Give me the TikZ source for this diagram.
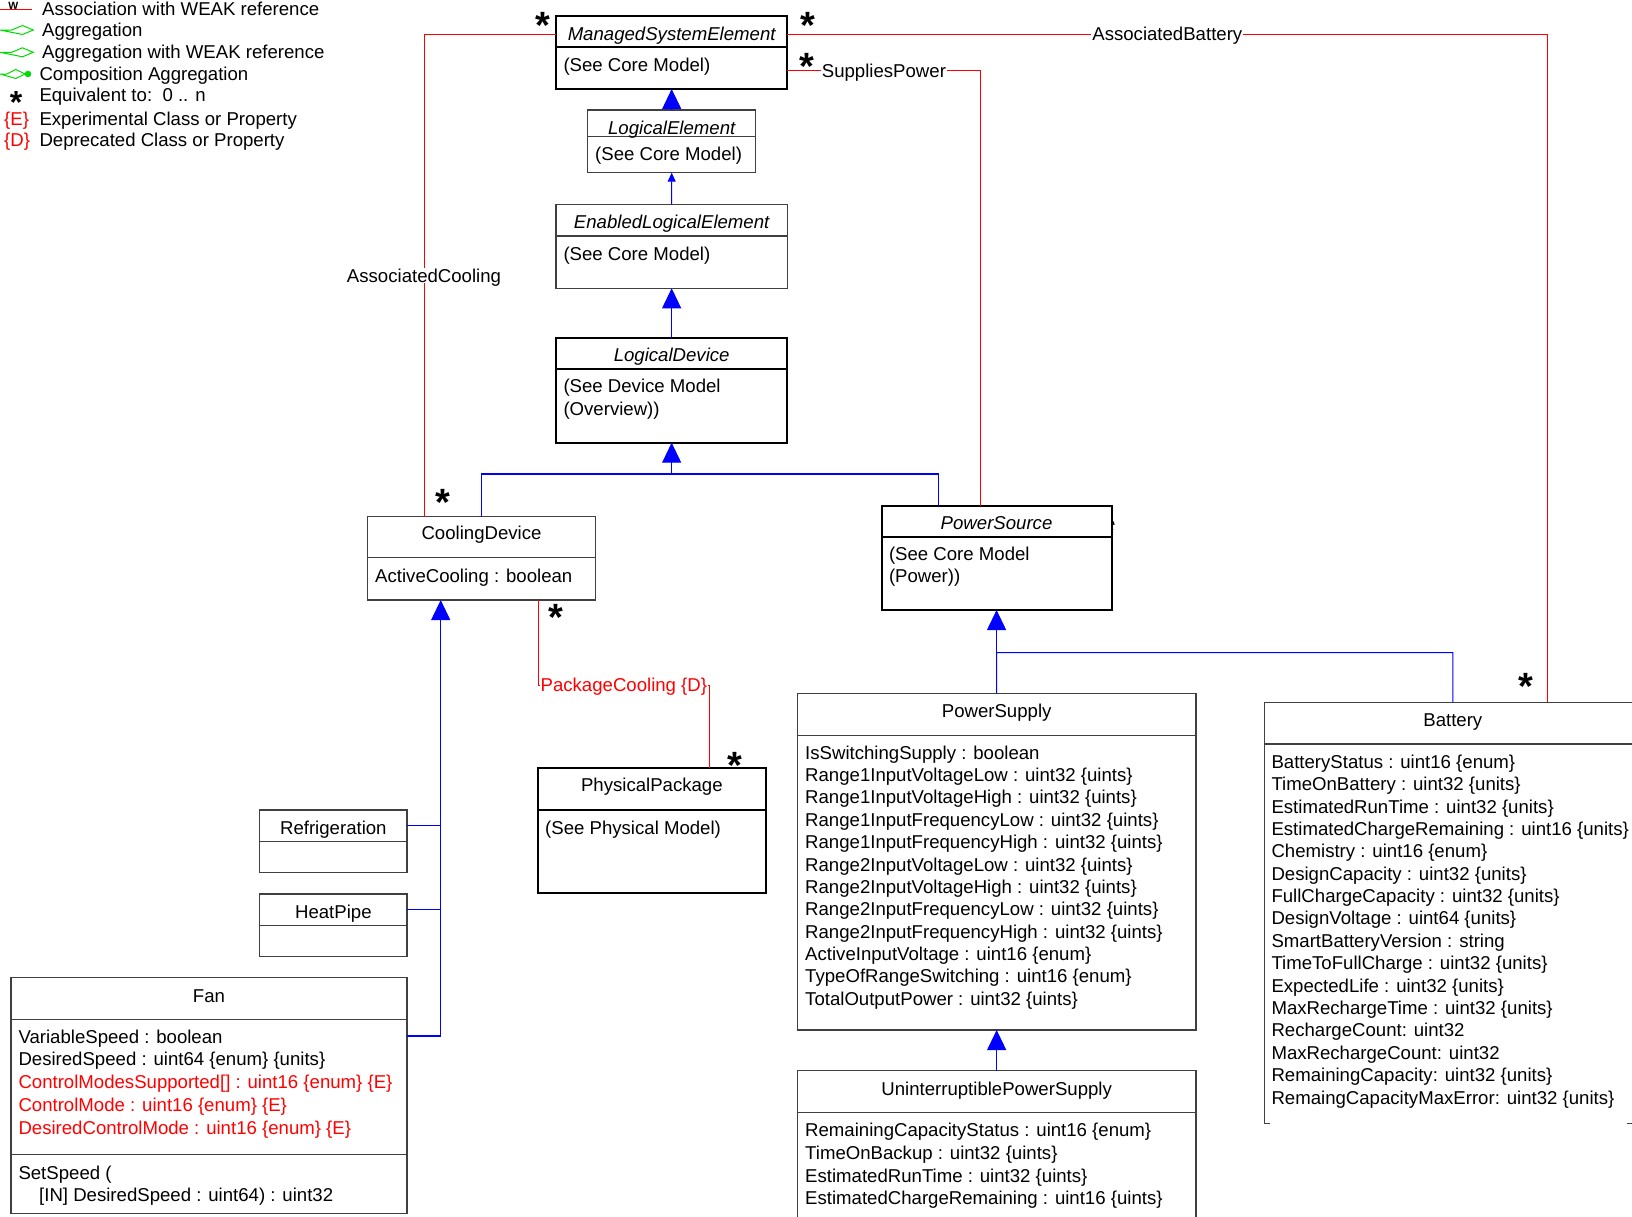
\documentclass[tikz,border=0pt]{standalone}
\usepackage{fontspec}
\setmainfont{Liberation Sans}
\usetikzlibrary{arrows.meta}
\definecolor{aggGreen}{RGB}{0,220,0}

\tikzset{
  cls/.style={draw=black!75, line width=1.1pt, fill=white, anchor=north west, inner sep=0pt, outer sep=0pt},
  clsb/.style={cls, draw=black, line width=2pt},
  sepl/.style={draw=black!75, line width=1.1pt},
  sepb/.style={draw=black, line width=2pt},
  txt/.style={anchor=base west, inner sep=0pt},
  ttl/.style={anchor=base, inner sep=0pt},
  gen/.style={draw=blue, line width=1.1pt, -{Triangle[width=19pt,length=20pt]}},
  gensmall/.style={draw=blue, line width=1pt, -{Triangle[width=8pt,length=9pt]}},
  genl/.style={draw=blue, line width=1.1pt},
  assoc/.style={draw=red, line width=1pt},
  agg/.style={draw=aggGreen, line width=1pt},
  lbl/.style={fill=white, inner sep=1pt, text height=13.3pt, text depth=0pt},
  mult/.style={font=\fontsize{38}{38}\selectfont\bfseries, inner sep=0pt, anchor=base},
}

\begin{document}
\fontsize{18.6pt}{22.4pt}\selectfont
\begin{tikzpicture}[x=1pt, y=-1pt]
    \useasboundingbox (0,0) rectangle (1632,1216);

    % legend
    \draw[assoc] (0,9.3) -- (32,9.3);
    \node[ttl, font=\fontsize{10.5}{10.5}\selectfont\bfseries] (wmark) at (13.3,9.3) {W};
    \draw[agg] (0,30) -- (11.7,30) -- (22.5,25.5) -- (33.3,30) -- (22.5,34.5) -- cycle;
    \draw[agg] (0,52.3) -- (11.7,52.3) -- (22.5,47.8) -- (33.3,52.3) -- (22.5,56.8) -- cycle;
    \draw[agg] (0,74) -- (6.7,74) -- (15.8,69.5) -- (25,74) -- (15.8,78.5) -- cycle;
    \draw[agg, fill=aggGreen] (25,74) -- (28,74) circle (2.7);
    \node[mult, font=\fontsize{32}{32}\selectfont\bfseries] (legstar) at (16,113) {*};
    \node[txt, text=red] (lege) at (4,125.2) {\{E\}};
    \node[txt, text=red] (legd) at (4,146.1) {\{D\}};
    \foreach \x/\y/\t [count=\i] in {42/15/Association with WEAK reference, 42/36.8/Aggregation,
        42/58.6/Aggregation with WEAK reference, 39.3/80.5/Composition Aggregation,
        39.3/101.3/{Equivalent to:\ \ 0 .. n}, 39.3/125.2/Experimental Class or Property,
        39.3/146.1/Deprecated Class or Property}
    \node[txt] (leg\i) at (\x,\y) {\t};

    % multiplicities
    \foreach \x/\y [count=\i] in {542.5/38.8, 807.5/38.8, 807/79.8, 443.3/515.8,
        555.7/630.5, 735/778.1, 1526/699.8}
    \node[mult] (mult\i) at (\x,\y) {*};
    \node[mult] (mult8) at (1108,544.8) {*};

    % core classes
    \node[clsb, minimum width=231.3pt, minimum height=73.3pt] (mse) at (556,15.7) {};
    \draw[sepb] ([yshift=-31.6pt]mse.north west) -- ([yshift=-31.6pt]mse.north east);
    \node[ttl, font=\itshape] (mset) at ([yshift=-24.3pt]mse.north) {ManagedSystemElement};
    \node[txt] (msea) at ([xshift=7.3pt, yshift=-56pt]mse.north west) {(See Core Model)};

    \node[cls, minimum width=168pt, minimum height=62.7pt] (le) at (587.7,110) {};
    \draw[sepl] ([yshift=-26.7pt]le.north west) -- ([yshift=-26.7pt]le.north east);
    \node[ttl, font=\itshape] (let) at ([yshift=-24pt]le.north) {LogicalElement};
    \node[txt] (lea) at ([xshift=7.3pt, yshift=-50pt]le.north west) {(See Core Model)};

    \node[cls, minimum width=231.3pt, minimum height=84pt] (ele) at (556,204.3) {};
    \draw[sepl] ([yshift=-31.7pt]ele.north west) -- ([yshift=-31.7pt]ele.north east);
    \node[ttl, font=\itshape] (elet) at ([yshift=-23.7pt]ele.north) {EnabledLogicalElement};
    \node[txt] (elea) at ([xshift=7.3pt, yshift=-55.7pt]ele.north west) {(See Core Model)};

    \node[clsb, minimum width=231.3pt, minimum height=105pt] (ld) at (556,337.7) {};
    \draw[sepb] ([yshift=-31.6pt]ld.north west) -- ([yshift=-31.6pt]ld.north east);
    \node[ttl, font=\itshape] (ldt) at ([yshift=-24pt]ld.north) {LogicalDevice};
    \node[txt] (lda1) at ([xshift=7.3pt, yshift=-55pt]ld.north west) {(See Device Model};
    \node[txt] (lda2) at ([xshift=7.3pt, yshift=-77.3pt]ld.north west) {(Overview))};

    % cooling
    \node[cls, minimum width=228.4pt, minimum height=83.3pt] (cd) at (367.3,516.7) {};
    \draw[sepl] ([yshift=-41pt]cd.north west) -- ([yshift=-41pt]cd.north east);
    \node[ttl] (cdt) at ([yshift=-22.6pt]cd.north) {CoolingDevice};
    \node[txt] (cda) at ([xshift=7.7pt, yshift=-65.3pt]cd.north west) {ActiveCooling : boolean};

    \node[clsb, minimum width=228.3pt, minimum height=125.6pt] (pp) at (537.7,767.7) {};
    \draw[sepb] ([yshift=-42.3pt]pp.north west) -- ([yshift=-42.3pt]pp.north east);
    \node[ttl] (ppt) at ([yshift=-24pt]pp.north) {PhysicalPackage};
    \node[txt] (ppa) at ([xshift=7.3pt, yshift=-66.6pt]pp.north west) {(See Physical Model)};

    \node[cls, minimum width=147.3pt, minimum height=62.7pt] (ref) at (259.7,810) {};
    \draw[sepl] ([yshift=-31.7pt]ref.north west) -- ([yshift=-31.7pt]ref.north east);
    \node[ttl] (reft) at ([yshift=-24.3pt]ref.north) {Refrigeration};

    \node[cls, minimum width=147.3pt, minimum height=62.7pt] (hp) at (259.7,894) {};
    \draw[sepl] ([yshift=-31.3pt]hp.north west) -- ([yshift=-31.3pt]hp.north east);
    \node[ttl] (hpt) at ([yshift=-24.3pt]hp.north) {HeatPipe};

    \node[cls, minimum width=396pt, minimum height=236pt] (fan) at (11,977.7) {};
    \draw[sepl] ([yshift=-42pt]fan.north west) -- ([yshift=-42pt]fan.north east);
    \draw[sepl] ([yshift=-177pt]fan.north west) -- ([yshift=-177pt]fan.north east);
    \node[ttl] (fant) at ([yshift=-24.6pt]fan.north) {Fan};
    \foreach \t/\c [count=\i from 0] in {VariableSpeed : boolean/black,
        DesiredSpeed : uint64 \{enum\} \{units\}/black,
        ControlModesSupported[] : uint16 \{enum\} \{E\}/red,
        ControlMode : uint16 \{enum\} \{E\}/red,
        DesiredControlMode : uint16 \{enum\} \{E\}/red}
    \node[txt, text=\c] (fana\i) at (18.3,{1043.3+22.68*\i}) {\t};
    \node[txt] (fanm1) at (18.3,1179) {SetSpeed (};
    \node[txt] (fanm2) at (39,1201.5) {[IN] DesiredSpeed : uint64) : uint32};

    % power
    \node[clsb, minimum width=230.1pt, minimum height=104.2pt] (pwsrc) at (881.5,505.8) {};
    \draw[sepb] ([yshift=-31.2pt]pwsrc.north west) -- ([yshift=-31.2pt]pwsrc.north east);
    \node[ttl, font=\itshape] (pwsrct) at ([yshift=-23.7pt]pwsrc.north) {PowerSource};
    \node[txt] (pwsrca1) at ([xshift=7.3pt, yshift=-54.6pt]pwsrc.north west) {(See Core Model};
    \node[txt] (pwsrca2) at ([xshift=7.3pt, yshift=-76.9pt]pwsrc.north west) {(Power))};

    \node[cls, minimum width=398.7pt, minimum height=336.7pt] (psup) at (797.3,693.3) {};
    \draw[sepl] ([yshift=-42pt]psup.north west) -- ([yshift=-42pt]psup.north east);
    \node[ttl] (psupt) at ([yshift=-24pt]psup.north) {PowerSupply};
    \foreach \t [count=\i from 0] in {IsSwitchingSupply : boolean,
        Range1InputVoltageLow : uint32 \{uints\}, Range1InputVoltageHigh : uint32 \{uints\},
        Range1InputFrequencyLow : uint32 \{uints\}, Range1InputFrequencyHigh : uint32 \{uints\},
        Range2InputVoltageLow : uint32 \{uints\}, Range2InputVoltageHigh : uint32 \{uints\},
        Range2InputFrequencyLow : uint32 \{uints\}, Range2InputFrequencyHigh : uint32 \{uints\},
        ActiveInputVoltage : uint16 \{enum\}, TypeOfRangeSwitching : uint16 \{enum\},
        TotalOutputPower : uint32 \{uints\}}
    \node[txt] (psupa\i) at (805,{759.3+22.34*\i}) {\t};

    \node[cls, minimum width=398.7pt, minimum height=150pt] (ups) at (797.3,1070.7) {};
    \draw[sepl] ([yshift=-42pt]ups.north west) -- ([yshift=-42pt]ups.north east);
    \node[ttl] (upst) at ([yshift=-25pt]ups.north) {UninterruptiblePowerSupply};
    \foreach \t [count=\i from 0] in {RemainingCapacityStatus : uint16 \{enum\},
        TimeOnBackup : uint32 \{uints\}, EstimatedRunTime : uint32 \{uints\},
        EstimatedChargeRemaining : uint16 \{uints\}}
    \node[txt] (upsa\i) at (805,{1136.7+22.7*\i}) {\t};

    \node[anchor=north west, inner sep=0pt, outer sep=0pt, minimum width=377pt, minimum height=421pt] (bat) at (1264.3,702.3) {};
    \draw[sepl] ([xshift=6pt]bat.south west) -- (bat.south west) -- (bat.north west) -- (bat.north east);
    \draw[sepl] ([xshift=-14.3pt]bat.south east) -- (bat.south east);
    \draw[sepl] ([yshift=-41.7pt]bat.north west) -- ([yshift=-41.7pt]bat.north east);
    \node[ttl] (batt) at ([yshift=-24.4pt]bat.north) {Battery};
    \foreach \t [count=\i from 0] in {BatteryStatus : uint16 \{enum\},
        TimeOnBattery : uint32 \{units\}, EstimatedRunTime : uint32 \{units\},
        EstimatedChargeRemaining : uint16 \{units\}, Chemistry : uint16 \{enum\},
        DesignCapacity : uint32 \{units\}, FullChargeCapacity : uint32 \{units\},
        DesignVoltage : uint64 \{units\}, SmartBatteryVersion : string,
        TimeToFullCharge : uint32 \{units\}, ExpectedLife : uint32 \{units\},
        MaxRechargeTime : uint32 \{units\}, RechargeCount: uint32,
        MaxRechargeCount: uint32, RemainingCapacity: uint32 \{units\},
        RemaingCapacityMaxError: uint32 \{units\}}
    \node[txt] (bata\i) at (1271.3,{768.3+22.38*\i}) {\t};

    % inheritance
    \draw[gen] (le.north) -- (mse.south);
    \draw[gensmall] (ele.north) -- (le.south);
    \draw[gen] (ld.north) -- (ele.south);
    \coordinate (ldbus) at ([yshift=-31.3pt]ld.south);
    \draw[gen] (ldbus) -- (ld.south);
    \draw[genl] (cd.north) |- (ldbus) -| ([xshift=-57.7pt]pwsrc.north);
    \coordinate (psbus) at ([yshift=-42.6pt]pwsrc.south);
    \draw[gen] (psbus) -- (pwsrc.south);
    \draw[genl] (psup.north) -- (psbus) -| (bat.north);
    \draw[gen] (ups.north) -- (psup.south);
    \coordinate (cdbus) at ([xshift=-40.8pt]cd.south);
    \draw[gen] ([yshift=-58.3pt]fan.north east) -| (cdbus);
    \draw[genl] ([yshift=-15.7pt]ref.north east) coordinate (refc) -- (refc -| cdbus);
    \draw[genl] ([yshift=-15.3pt]hp.north east) coordinate (hpc) -- (hpc -| cdbus);

    % associations
    \draw[assoc] ([yshift=-18.3pt]mse.north west) -| node[lbl, pos=0.75] (aclbl) {AssociatedCooling} ([xshift=-57.5pt]cd.north);
    \draw[assoc] ([yshift=-18.3pt]mse.north east) -| node[lbl, pos=0.25] (ablbl) {AssociatedBattery} ([xshift=94.5pt]bat.north);
    \draw[assoc] ([yshift=-55pt]mse.north east) -| node[lbl, pos=0.25] (splbl) {SuppliesPower} ([xshift=-16pt]pwsrc.north);
    \draw[assoc] ([xshift=57.2pt]cd.south) -- ++(0,85) -| node[lbl, pos=0.25, text=red] (pclbl) {PackageCooling \{D\}} ([xshift=57.2pt]pp.north);
\end{tikzpicture}
\end{document}
